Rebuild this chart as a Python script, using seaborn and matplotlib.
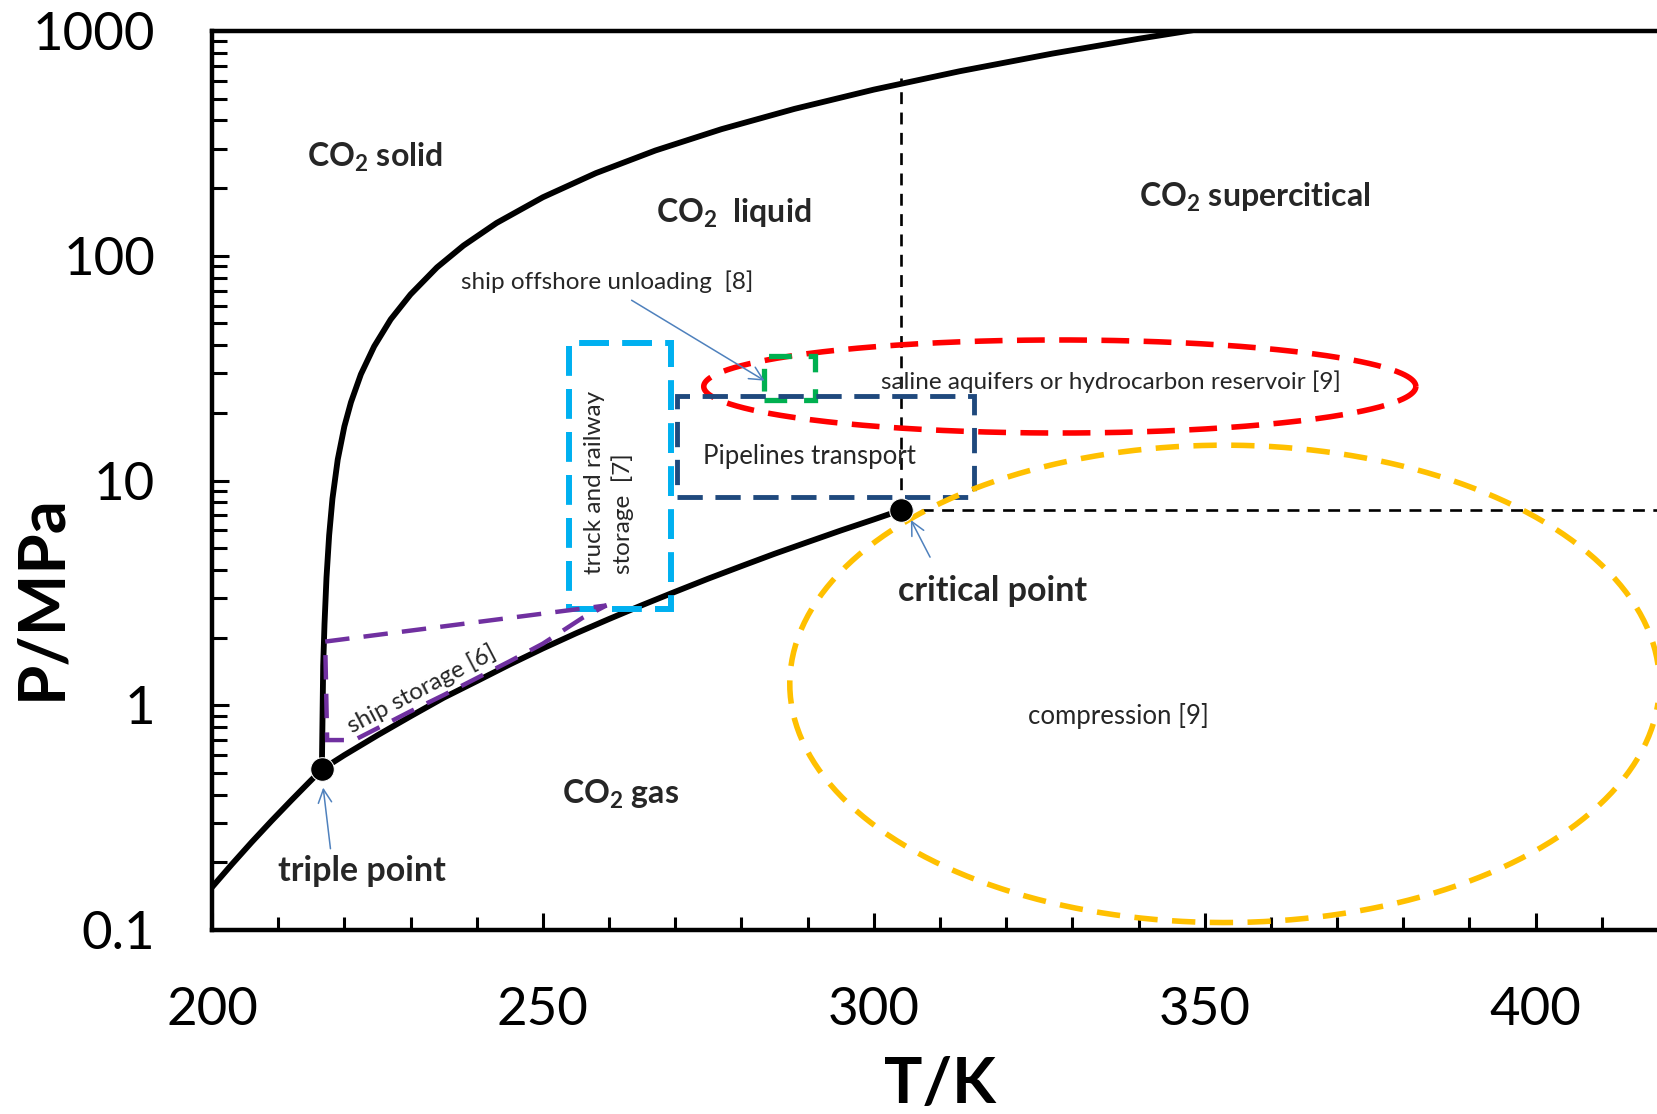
import numpy as np
import pandas as pd
import matplotlib
matplotlib.use("Agg")
import matplotlib.pyplot as plt
from matplotlib.patches import Rectangle, Polygon
from matplotlib.ticker import LogLocator, NullFormatter, MultipleLocator
import seaborn as sns

# ---- CO2 phase boundaries (T in K, P in MPa) ----
sublimation_T = [200.0, 203.0, 206.0, 209.0, 212.0, 214.5, 216.6]
sublimation_P = [0.155, 0.196, 0.246, 0.306, 0.378, 0.449, 0.518]

vaporization_T = [216.6, 220, 225, 230, 235, 240, 245, 250, 255, 260, 265,
                  270, 275, 280, 285, 290, 295, 300, 304.1]
vaporization_P = [0.518, 0.600, 0.735, 0.893, 1.08, 1.28, 1.52, 1.79, 2.09,
                  2.42, 2.79, 3.20, 3.66, 4.16, 4.72, 5.32, 5.99, 6.71, 7.38]

melting_T = [216.6, 216.8, 217.0, 217.3, 217.7, 218.2, 219.0, 220.0, 221.0,
             222.5, 224.5, 227.0, 230.0, 234.0, 238.0, 243.0, 250.0, 258.0,
             267.0, 277.0, 288.0, 300.0, 313.0, 327.0, 340.0, 350.0]
melting_P = [0.518, 1.5, 2.3, 3.7, 5.7, 8.3, 12.4, 17.4, 22.3, 29.7, 39.5,
             52.1, 67.3, 88.8, 111.0, 139.9, 182.1, 233.1, 294.0, 365.9,
             450.2, 548.5, 662.4, 793.6, 923.3, 1028.0]

triple_point = (216.6, 0.518)
critical_point = (304.1, 7.38)

# ---- transport / storage regions ----
truck_rail_T = [254.0, 269.3]
truck_rail_P = [2.68, 41.0]
pipeline_T = [270.2, 315.1]
pipeline_P = [8.45, 23.8]
offshore_T = [283.4, 291.1]
offshore_P = [22.8, 35.7]
ship_storage_T = [217.1, 259.6, 256.0, 250.0, 245.0, 240.0, 235.0, 230.0,
                  225.0, 221.5, 217.4]
ship_storage_P = [1.92, 2.78, 2.45, 1.88, 1.57, 1.32, 1.11, 0.94,
                  0.79, 0.70, 0.70]
# ellipses: centre T, half-width (K), centre P, half-height (decades)
aquifer_ellipse = [328.1, 53.8, 26.2, 0.207]
compression_ellipse = [353.0, 65.7, 1.245, 1.062]

x_ticks = [200, 250, 300, 350, 400]
x_tick_labels = ["200", "250", "300", "350", "400"]
y_ticks = [0.1, 1, 10, 100, 1000]
y_tick_labels = ["0.1", "1", "10", "100", "1000"]

# ---- style ----
sns.set_theme(style="ticks")
plt.rcParams["font.family"] = ["Lato", "DejaVu Sans"]
plt.rcParams["mathtext.fontset"] = "custom"
plt.rcParams["mathtext.rm"] = "Lato"
plt.rcParams["mathtext.it"] = "Lato:italic"
plt.rcParams["mathtext.bf"] = "Lato:bold"

BLACK = "#000000"
ARROW = "#4F81BD"

fig = plt.figure(figsize=(16.57, 11.14), dpi=100)
ax = fig.add_axes([0.12794, 0.16517, 0.87870, 0.80700])
ax.set_yscale("log")
ax.set_xlim(200, 420)
ax.set_ylim(0.1, 1000)


def line(xs, ys, **kw):
    df = pd.DataFrame({"T": xs, "P": ys})
    sns.lineplot(data=df, x="T", y="P", sort=False, estimator=None, ax=ax,
                 legend=False, **kw)


# phase boundaries
line(sublimation_T, sublimation_P, color=BLACK, lw=4.2, zorder=3)
line(vaporization_T, vaporization_P, color=BLACK, lw=4.2, zorder=3)
line(melting_T, melting_P, color=BLACK, lw=4.2, zorder=3)

# critical isotherm / isobar
line([critical_point[0], critical_point[0]], [critical_point[1], 620],
     color=BLACK, lw=1.9, ls=(0, (4.5, 3.2)), zorder=2)
line([critical_point[0], 420], [critical_point[1], critical_point[1]],
     color=BLACK, lw=1.9, ls=(0, (4.5, 3.2)), zorder=2)

# regions
theta = np.linspace(0, 2 * np.pi, 400)


def ellipse(params, color, dash, lw, z):
    tc, ta, pc, pb = params
    line(tc + ta * np.cos(theta), pc * 10 ** (pb * np.sin(theta)),
         color=color, lw=lw, ls=(0, dash), zorder=z)


ellipse(aquifer_ellipse, "#FF0000", (5.0, 2.6), 4.0, 4)


def rect(ts, ps, color, dash, lw, z):
    ax.add_patch(Rectangle((ts[0], ps[0]), ts[1] - ts[0], ps[1] - ps[0],
                           fill=False, ec=color, lw=lw, ls=(0, dash),
                           zorder=z))


rect(truck_rail_T, truck_rail_P, "#00B0F0", (5.0, 2.2), 4.3, 4)
rect(pipeline_T, pipeline_P, "#1F497D", (5.2, 2.6), 3.5, 4.2)
rect(offshore_T, offshore_P, "#00B050", (4.3, 3.2), 3.8, 4.1)
ax.add_patch(Polygon(np.column_stack([ship_storage_T, ship_storage_P]),
                     closed=True, fill=False, ec="#7030A0", lw=3.2,
                     ls=(0, (5.5, 3.2)), zorder=4))
ellipse(compression_ellipse, "#FFC000", (4.2, 2.6), 4.0, 5)

# points
line([triple_point[0]], [triple_point[1]], color=BLACK, marker="o",
     markersize=17, zorder=6)
line([critical_point[0]], [critical_point[1]], color=BLACK, marker="o",
     markersize=17, zorder=6)

# region labels
bold = dict(fontsize=23, fontweight="bold", ha="center", va="center", zorder=7)
ax.text(224.6, 275, r"CO$_\mathbf{2}$ solid", **bold)
ax.text(278.9, 155, r"CO$_\mathbf{2}$  liquid", **bold)
ax.text(357.6, 181, r"CO$_\mathbf{2}$ supercitical", **bold)
ax.text(261.7, 0.40, r"CO$_\mathbf{2}$ gas", **bold)
ax.text(222.7, 0.183, "triple point", fontsize=24.5, fontweight="bold",
        ha="center", va="center", zorder=7)
ax.text(317.9, 3.23, "critical point", fontsize=24.5, fontweight="bold",
        ha="center", va="center", zorder=7)

small = dict(fontsize=17.5, ha="center", va="center", zorder=7)
ax.text(259.7, 77, "ship offshore unloading  [8]", **small)
ax.text(335.8, 27.5, "saline aquifers or hydrocarbon reservoir [9]", **small)
ax.text(290.3, 12.8, "Pipelines transport", fontsize=18.5, ha="center",
        va="center", zorder=7)
ax.text(260.0, 9.8, "truck and railway\nstorage  [7]", rotation=90,
        multialignment="left", linespacing=1.35, **small)
ax.text(231.6, 1.18, "ship storage [6]", rotation=27.6, **small)
ax.text(336.9, 0.90, "compression [9]", fontsize=18.5, ha="center",
        va="center", zorder=7)

arrow = dict(arrowstyle="->", color=ARROW, lw=1.1, shrinkA=0, shrinkB=0,
             mutation_scale=24)
ax.annotate("", xy=(283.5, 27.8), xytext=(263.4, 63.4), arrowprops=arrow,
            zorder=7)
ax.annotate("", xy=(305.6, 6.67), xytext=(308.5, 4.56), arrowprops=arrow,
            zorder=7)
ax.annotate("", xy=(216.8, 0.43), xytext=(217.9, 0.23), arrowprops=arrow,
            zorder=7)

# axes frame and ticks
for s in ax.spines.values():
    s.set_linewidth(3.2)
    s.set_color(BLACK)

ax.set_xticks(x_ticks, x_tick_labels)
ax.xaxis.set_minor_locator(MultipleLocator(10))
ax.set_yticks(y_ticks, y_tick_labels)
ax.yaxis.set_minor_locator(LogLocator(base=10, subs=np.arange(2, 10)))
ax.yaxis.set_minor_formatter(NullFormatter())

ax.tick_params(axis="both", which="both", direction="in", color=BLACK,
               width=2.2, labelsize=38, labelcolor=BLACK,
               top=False, right=False, bottom=True, left=True)
ax.tick_params(axis="x", which="major", length=12.5, pad=41)
ax.tick_params(axis="x", which="minor", length=9.5)
ax.tick_params(axis="y", which="major", length=12.5, pad=41)
ax.tick_params(axis="y", which="minor", length=11)

ax.set_xlabel("T/K", fontsize=46, fontweight="bold", color=BLACK)
ax.set_ylabel("P/MPa", fontsize=47, fontweight="bold", color=BLACK)
ax.xaxis.set_label_coords(0.5, -0.2035)
ax.xaxis.label.set_verticalalignment("bottom")
ax.yaxis.set_label_coords(-0.117, 0.37)
ax.yaxis.label.set_verticalalignment("center")

fig.savefig("out.png", dpi=100)
